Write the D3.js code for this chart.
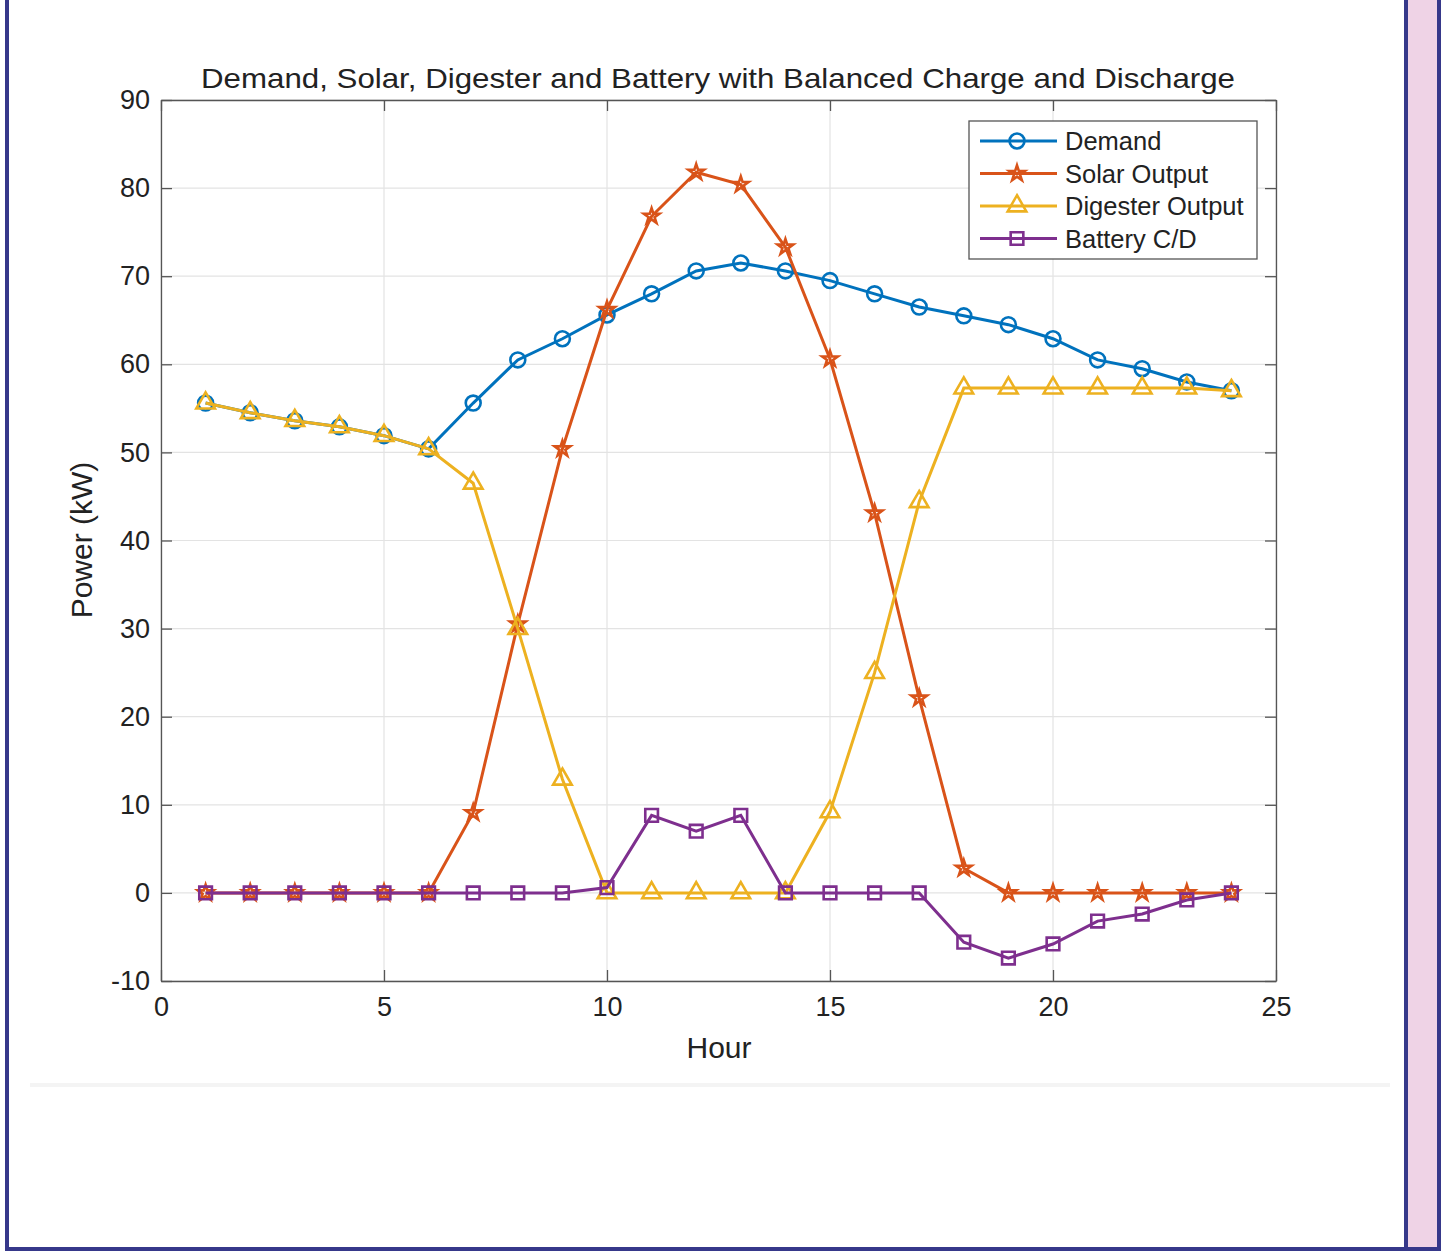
<!DOCTYPE html>
<html>
<head>
<meta charset="utf-8">
<script src="https://cdn.jsdelivr.net/npm/d3@7"></script>
<style>
  body { margin: 0; background: #ffffff; }
  text { font-family: "Liberation Sans", Arial, sans-serif; fill: #222; }
</style>
</head>
<body>
<div id="vis"></div>
<script>
const hours = d3.range(1, 25);
const demand = [55.6, 54.5, 53.6, 52.9, 51.9, 50.4, 55.6, 60.5, 62.9, 65.6, 68.0, 70.6,
                71.5, 70.6, 69.5, 68.0, 66.5, 65.5, 64.5, 62.9, 60.5, 59.5, 58.0, 57.0];
const solar = [0, 0, 0, 0, 0, 0, 9.1, 30.5, 50.4, 66.2, 76.8, 81.8,
               80.4, 73.3, 60.6, 43.1, 22.1, 2.8, 0, 0, 0, 0, 0, 0];
const digester = [55.6, 54.5, 53.6, 52.9, 51.9, 50.4, 46.5, 30.0, 12.9, 0, 0, 0,
                  0, 0, 9.2, 25.0, 44.4, 57.3, 57.3, 57.3, 57.3, 57.3, 57.3, 57.0];
const battery = [0, 0, 0, 0, 0, 0, 0, 0, 0, 0.6, 8.8, 7.0,
                 8.8, 0, 0, 0, 0, -5.6, -7.4, -5.8, -3.2, -2.4, -0.8, 0];
const seriesNames = ["Demand", "Solar Output", "Digester Output", "Battery C/D"];
const xTicks = [0, 5, 10, 15, 20, 25];
const yTicks = [-10, 0, 10, 20, 30, 40, 50, 60, 70, 80, 90];

const COLORS = ["#0072BD", "#D95319", "#EDB120", "#7E2F8E"];
const SYMBOLS = [d3.symbolCircle, d3.symbolStar, d3.symbolTriangle, d3.symbolSquare];
const SYM_SIZE = [175, 75, 150, 160];

const FRAME_WIDTH = 1445;
const FRAME_HEIGHT = 1251;
const MARGINS = {left: 161, right: 1445 - 1276, top: 100, bottom: 1251 - 981};
const VIS_WIDTH = FRAME_WIDTH - MARGINS.left - MARGINS.right;
const VIS_HEIGHT = FRAME_HEIGHT - MARGINS.top - MARGINS.bottom;

const svg = d3.select("#vis")
  .append("svg")
    .attr("width", FRAME_WIDTH)
    .attr("height", FRAME_HEIGHT);

// page frame
svg.append("rect").attr("x", 1408).attr("y", 0).attr("width", 30).attr("height", FRAME_HEIGHT)
   .attr("fill", "#efd3e6");
svg.append("rect").attr("x", 5).attr("y", 0).attr("width", 4).attr("height", FRAME_HEIGHT).attr("fill", "#36388a");
svg.append("rect").attr("x", 1404).attr("y", 0).attr("width", 4).attr("height", FRAME_HEIGHT).attr("fill", "#36388a");
svg.append("rect").attr("x", 1437).attr("y", 0).attr("width", 4).attr("height", FRAME_HEIGHT).attr("fill", "#36388a");
svg.append("rect").attr("x", 5).attr("y", 1247).attr("width", 1436).attr("height", 4).attr("fill", "#36388a");
svg.append("line").attr("x1", 30).attr("x2", 1390).attr("y1", 1085).attr("y2", 1085)
   .attr("stroke", "#f4f4f4").attr("stroke-width", 4);

const X_SCALE = d3.scaleLinear().domain([0, 25]).range([0, VIS_WIDTH]);
const Y_SCALE = d3.scaleLinear().domain([-10, 90]).range([VIS_HEIGHT, 0]);

const g = svg.append("g").attr("transform", "translate(" + MARGINS.left + "," + MARGINS.top + ")");

// grid
g.append("g").selectAll("line").data(xTicks).enter().append("line")
  .attr("x1", d => X_SCALE(d)).attr("x2", d => X_SCALE(d))
  .attr("y1", 0).attr("y2", VIS_HEIGHT)
  .attr("stroke", "#e3e3e3").attr("stroke-width", 1.2);
g.append("g").selectAll("line").data(yTicks).enter().append("line")
  .attr("y1", d => Y_SCALE(d)).attr("y2", d => Y_SCALE(d))
  .attr("x1", 0).attr("x2", VIS_WIDTH)
  .attr("stroke", "#e3e3e3").attr("stroke-width", 1.2);

// axes (matlab style, inward ticks)
function styleAxis(sel) {
  sel.select(".domain").attr("stroke", "#555").attr("stroke-width", 1.3);
  sel.selectAll(".tick line").attr("stroke", "#555").attr("stroke-width", 1.3);
  sel.selectAll(".tick text").attr("font-size", "27px")
     .attr("font-family", "Liberation Sans, Arial, sans-serif").attr("fill", "#222");
}
const fmt = d => String(d);
g.append("g").attr("transform", "translate(0," + VIS_HEIGHT + ")")
  .call(d3.axisBottom(X_SCALE).tickValues(xTicks).tickFormat(fmt).tickSizeInner(-11).tickSizeOuter(0).tickPadding(16))
  .call(styleAxis);
g.append("g")
  .call(d3.axisLeft(Y_SCALE).tickValues(yTicks).tickFormat(fmt).tickSizeInner(-11).tickSizeOuter(0).tickPadding(11))
  .call(styleAxis);
g.append("g")
  .call(d3.axisTop(X_SCALE).tickValues(xTicks).tickSizeInner(-11).tickSizeOuter(0).tickFormat(""))
  .call(styleAxis);
g.append("g").attr("transform", "translate(" + VIS_WIDTH + ",0)")
  .call(d3.axisRight(Y_SCALE).tickValues(yTicks).tickSizeInner(-11).tickSizeOuter(0).tickFormat(""))
  .call(styleAxis);

// lines and markers
const allSeries = [demand, solar, digester, battery];
const line = d3.line().x((d, i) => X_SCALE(hours[i])).y(d => Y_SCALE(d));

allSeries.forEach((vals, k) => {
  g.append("path").datum(vals)
    .attr("d", line)
    .attr("fill", "none")
    .attr("stroke", COLORS[k])
    .attr("stroke-width", 3);
  g.append("g").selectAll("path").data(vals).enter().append("path")
    .attr("d", d3.symbol().type(SYMBOLS[k]).size(SYM_SIZE[k]))
    .attr("transform", (d, i) => "translate(" + X_SCALE(hours[i]) + "," + Y_SCALE(d) + ")")
    .attr("fill", "none")
    .attr("stroke", COLORS[k])
    .attr("stroke-width", 2.6);
});

// title and labels
svg.append("text").attr("x", 718).attr("y", 88).attr("text-anchor", "middle")
  .attr("font-size", "28px").attr("textLength", 1034).attr("lengthAdjust", "spacingAndGlyphs")
  .text("Demand, Solar, Digester and Battery with Balanced Charge and Discharge");
svg.append("text").attr("x", 719).attr("y", 1058).attr("text-anchor", "middle")
  .attr("font-size", "30px").text("Hour");
svg.append("text").attr("transform", "translate(92,540) rotate(-90)").attr("text-anchor", "middle")
  .attr("font-size", "30px").text("Power (kW)");

// legend
const legend = svg.append("g").attr("transform", "translate(969,121)");
legend.append("rect").attr("width", 288).attr("height", 138)
  .attr("fill", "#fff").attr("stroke", "#555").attr("stroke-width", 1.3);
seriesNames.forEach((name, k) => {
  const y = 20 + k * 32.5;
  legend.append("line").attr("x1", 11).attr("x2", 88).attr("y1", y).attr("y2", y)
    .attr("stroke", COLORS[k]).attr("stroke-width", 3);
  legend.append("path").attr("d", d3.symbol().type(SYMBOLS[k]).size(SYM_SIZE[k]))
    .attr("transform", "translate(48," + y + ")")
    .attr("fill", "none").attr("stroke", COLORS[k]).attr("stroke-width", 2.6);
  legend.append("text").attr("x", 96).attr("y", y + 9).attr("font-size", "25.5px").text(name);
});
</script>
</body>
</html>
